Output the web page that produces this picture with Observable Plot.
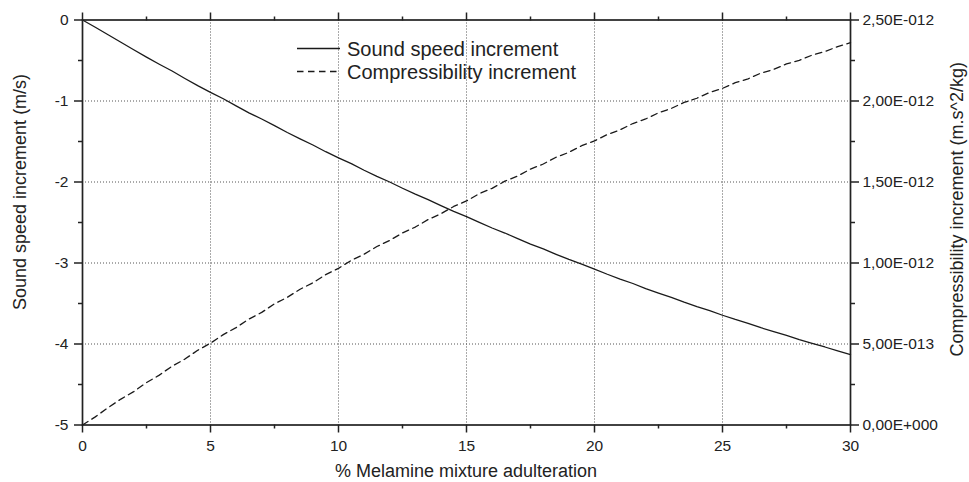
<!DOCTYPE html>
<html>
<head>
<meta charset="utf-8">
<script src="https://cdn.jsdelivr.net/npm/d3@7"></script>
<script src="https://cdn.jsdelivr.net/npm/@observablehq/plot@0.6"></script>
<style>
  html, body { margin: 0; padding: 0; background: #fff; overflow: hidden; }
  #chart { position: relative; width: 969px; height: 482px; font-family: "Liberation Sans", Arial, sans-serif; color: #222; }
  #chart svg { position: absolute; left: 0; top: 0; }
</style>
</head>
<body>
<div id="chart"></div>
<script>
// Melamine adulteration (%) at which both increments were computed
const adulteration = [
  0, 0.5, 1, 1.5, 2, 2.5, 3, 3.5, 4, 4.5, 5, 5.5, 6, 6.5, 7, 7.5, 8, 8.5, 9, 9.5,
  10, 10.5, 11, 11.5, 12, 12.5, 13, 13.5, 14, 14.5, 15, 15.5, 16, 16.5, 17, 17.5,
  18, 18.5, 19, 19.5, 20, 20.5, 21, 21.5, 22, 22.5, 23, 23.5, 24, 24.5, 25, 25.5,
  26, 26.5, 27, 27.5, 28, 28.5, 29, 29.5, 30
];

// Sound speed increment (m/s)
const soundSpeed = [
  0, -0.090, -0.182, -0.274, -0.368, -0.459, -0.546, -0.630, -0.722, -0.810,
  -0.893, -0.972, -1.061, -1.146, -1.222, -1.304, -1.389, -1.468, -1.543, -1.626,
  -1.702, -1.774, -1.855, -1.931, -2.000, -2.077, -2.150, -2.217, -2.292, -2.363,
  -2.428, -2.499, -2.568, -2.630, -2.700, -2.766, -2.826, -2.893, -2.956, -3.014,
  -3.075, -3.139, -3.198, -3.253, -3.316, -3.372, -3.425, -3.484, -3.538, -3.588,
  -3.645, -3.697, -3.745, -3.799, -3.848, -3.894, -3.946, -3.993, -4.037, -4.085,
  -4.130
];

// Compressibility increment (m.s^2/kg)
const compressibility = [
  0, 0.050e-12, 0.107e-12, 0.160e-12, 0.206e-12, 0.262e-12, 0.308e-12, 0.363e-12, 0.407e-12, 0.461e-12,
  0.505e-12, 0.558e-12, 0.601e-12, 0.654e-12, 0.695e-12, 0.748e-12, 0.788e-12, 0.838e-12, 0.878e-12, 0.928e-12,
  0.967e-12, 1.016e-12, 1.054e-12, 1.102e-12, 1.139e-12, 1.186e-12, 1.222e-12, 1.268e-12, 1.304e-12, 1.349e-12,
  1.383e-12, 1.428e-12, 1.461e-12, 1.505e-12, 1.537e-12, 1.580e-12, 1.611e-12, 1.653e-12, 1.683e-12, 1.724e-12,
  1.754e-12, 1.793e-12, 1.822e-12, 1.861e-12, 1.889e-12, 1.927e-12, 1.954e-12, 1.991e-12, 2.017e-12, 2.053e-12,
  2.078e-12, 2.113e-12, 2.137e-12, 2.172e-12, 2.195e-12, 2.229e-12, 2.251e-12, 2.283e-12, 2.305e-12, 2.336e-12,
  2.360e-12
];

// Tick values
const xMajorTicks = [0, 5, 10, 15, 20, 25, 30];
const xMinorTicks = [2.5, 7.5, 12.5, 17.5, 22.5, 27.5];
const speedTicks = [0, -1, -2, -3, -4, -5];
const speedMinorTicks = [-0.5, -1.5, -2.5, -3.5, -4.5];
const compTicks = [0, 0.5e-12, 1.0e-12, 1.5e-12, 2.0e-12, 2.5e-12];
const compMinorTicks = [0.25e-12, 0.75e-12, 1.25e-12, 1.75e-12, 2.25e-12];

// Text
const seriesNames = ["Sound speed increment", "Compressibility increment"];
const xTitle = "% Melamine mixture adulteration";
const speedTitle = "Sound speed increment (m/s)";
const compTitle = "Compressibility increment (m.s^2/kg)";

const W = 969, H = 482;
const frame = { width: W, height: H, marginLeft: 82, marginRight: 119, marginTop: 19.5, marginBottom: 57.5 };
const ink = "#222";
const font = '"Liberation Sans", Arial, sans-serif';
const baseStyle = { background: "transparent", fontFamily: font, fontSize: "15.5px", color: ink, overflow: "visible" };
const blank = () => "";

// "2,50E-012" style labels
const sciComma = v => {
  const [m, e] = v.toExponential(2).split("e");
  const sign = e[0] === "-" ? "-" : "+";
  const digits = e.replace(/^[+-]/, "").padStart(3, "0");
  return m.replace(".", ",") + "E" + sign + digits;
};

const speedRows = adulteration.map((x, i) => ({ x, v: soundSpeed[i] }));
const compRows = adulteration.map((x, i) => ({ x, v: compressibility[i] }));

const chart = document.getElementById("chart");

// Left scale: sound speed, grid, bottom/top/left axes and frame
const speedPlot = Plot.plot({
  ...frame,
  style: baseStyle,
  x: { domain: [0, 30], label: null },
  y: { domain: [-5, 0], label: null },
  marks: [
    Plot.gridX(xMajorTicks.slice(1, -1), { stroke: "#555", strokeOpacity: 1, strokeWidth: 1, strokeDasharray: "1,2" }),
    Plot.gridY(speedTicks.slice(1, -1), { stroke: "#555", strokeOpacity: 1, strokeWidth: 1, strokeDasharray: "1,2" }),
    Plot.line(speedRows, { x: "x", y: "v", stroke: "#1a1a1a", strokeWidth: 1.3 }),
    Plot.axisX(xMajorTicks, { anchor: "bottom", tickSize: 8, tickPadding: 7, tickFormat: d => String(d), label: null, stroke: ink, strokeWidth: 1.5 }),
    Plot.axisX(xMinorTicks, { anchor: "bottom", tickSize: 4, tickFormat: blank, label: null, stroke: ink, strokeWidth: 1.5 }),
    Plot.axisX(xMajorTicks, { anchor: "top", tickSize: 8, tickFormat: blank, label: null, stroke: ink, strokeWidth: 1.5 }),
    Plot.axisX(xMinorTicks, { anchor: "top", tickSize: 4, tickFormat: blank, label: null, stroke: ink, strokeWidth: 1.5 }),
    Plot.axisY(speedTicks, { anchor: "left", tickSize: 8, tickPadding: 6, tickFormat: d => String(d), label: null, stroke: ink, strokeWidth: 1.5 }),
    Plot.axisY(speedMinorTicks, { anchor: "left", tickSize: 4, tickFormat: blank, label: null, stroke: ink, strokeWidth: 1.5 }),
    Plot.frame({ stroke: ink, strokeWidth: 1.7 })
  ]
});
chart.appendChild(speedPlot);

// Right scale: compressibility and its axis
const compPlot = Plot.plot({
  ...frame,
  style: baseStyle,
  x: { domain: [0, 30], axis: null },
  y: { domain: [0, 2.5e-12], label: null },
  marks: [
    Plot.line(compRows, { x: "x", y: "v", stroke: "#1a1a1a", strokeWidth: 1.3, strokeDasharray: "6.5,4.5" }),
    Plot.axisY(compTicks, { anchor: "right", tickSize: 8, tickPadding: 4, tickFormat: sciComma, label: null, stroke: ink, strokeWidth: 1.5 }),
    Plot.axisY(compMinorTicks, { anchor: "right", tickSize: 4, tickFormat: blank, label: null, stroke: ink, strokeWidth: 1.5 })
  ]
});
chart.appendChild(compPlot);

// Titles and legend
const deco = d3.select(chart).append("svg")
  .attr("width", W).attr("height", H)
  .style("font-family", font).style("fill", ink);

deco.append("text")
  .attr("x", 466).attr("y", 477).attr("text-anchor", "middle")
  .style("font-size", "18px").text(xTitle);

deco.append("text")
  .attr("transform", "translate(26,310) rotate(-90)")
  .attr("text-anchor", "start")
  .style("font-size", "18px").text(speedTitle);

deco.append("text")
  .attr("transform", "translate(963,62) rotate(-90)")
  .attr("text-anchor", "end")
  .style("font-size", "18px").text(compTitle);

const legend = deco.append("g");
seriesNames.forEach((name, i) => {
  const y = 48.5 + i * 23;
  legend.append("line")
    .attr("x1", 297).attr("x2", 340).attr("y1", y).attr("y2", y)
    .attr("stroke", "#1a1a1a").attr("stroke-width", 1.3)
    .attr("stroke-dasharray", i === 1 ? "6.5,4.5" : null);
  legend.append("text")
    .attr("x", 347).attr("y", y + 7.3)
    .style("font-size", "20px").text(name);
});
</script>
</body>
</html>
